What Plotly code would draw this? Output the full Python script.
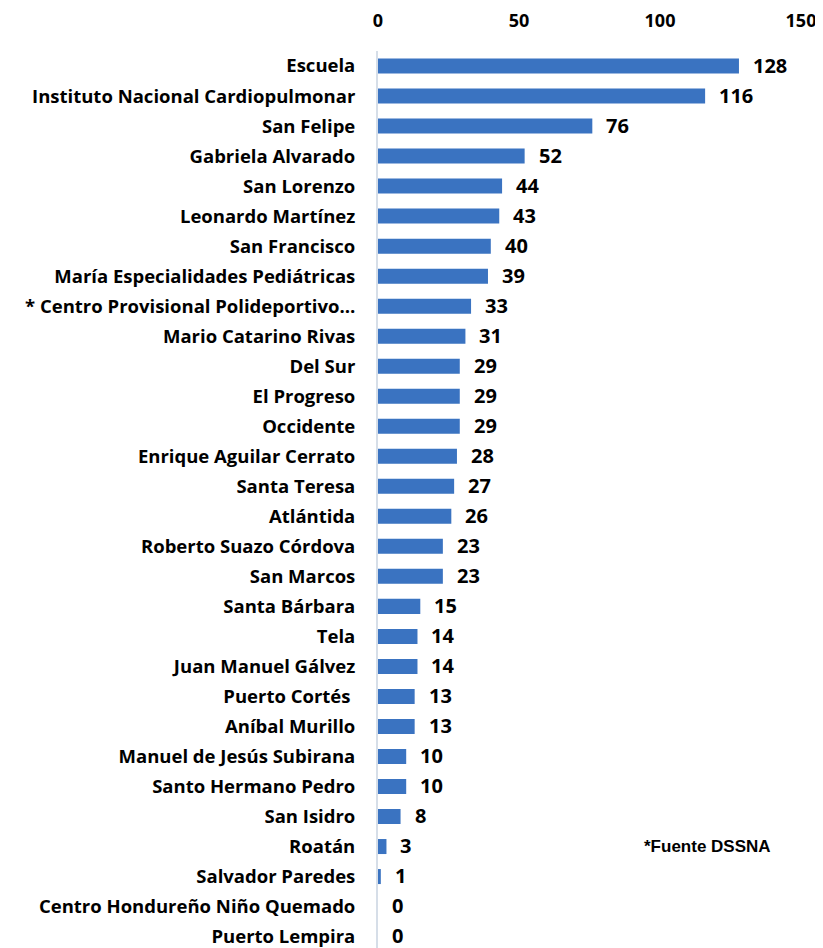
import plotly.graph_objects as go

categories = [
    "Escuela", "Instituto Nacional Cardiopulmonar", "San Felipe", "Gabriela Alvarado",
    "San Lorenzo", "Leonardo Martínez", "San Francisco", "María Especialidades Pediátricas",
    "* Centro Provisional Polideportivo…", "Mario Catarino Rivas", "Del Sur", "El Progreso",
    "Occidente", "Enrique Aguilar Cerrato", "Santa Teresa", "Atlántida", "Roberto Suazo Córdova",
    "San Marcos", "Santa Bárbara", "Tela", "Juan Manuel Gálvez", "Puerto Cortés ",
    "Aníbal Murillo", "Manuel de Jesús Subirana", "Santo Hermano Pedro", "San Isidro",
    "Roatán", "Salvador Paredes", "Centro Hondureño Niño Quemado", "Puerto Lempira",
]
values = [128, 116, 76, 52, 44, 43, 40, 39, 33, 31, 29, 29, 29, 28, 27, 26, 23, 23,
          15, 14, 14, 13, 13, 10, 10, 8, 3, 1, 0, 0]
x_ticks = [0, 50, 100, 150]
source_note = "*Fuente DSSNA"

FONT = "Open Sans"

fig = go.Figure()
fig.add_trace(go.Bar(
    x=values, y=categories, orientation="h",
    marker=dict(color="#3A73C1", line=dict(width=0)),
    width=0.5,
    hoverinfo="x+y",
))

annotations = []
for c, v in zip(categories, values):
    annotations.append(dict(
        x=v, y=c, xref="x", yref="y", text=f"<b>{v}</b>",
        showarrow=False, xanchor="left", xshift=13, yshift=1, borderpad=0,
        font=dict(family=FONT, size=20, color="#000000"),
    ))
annotations.append(dict(
    x=0.934, y=0.1126, xref="paper", yref="paper", text=f"<b>{source_note}</b>",
    showarrow=False, xanchor="right", yanchor="middle",
    font=dict(family="Liberation Sans", size=17, color="#000000"),
))

# page body has an 8px margin, so the figure is 815x940 to fill 823x948
fig.update_layout(
    width=815, height=940,
    margin=dict(l=370, r=22, t=43, b=0),
    paper_bgcolor="white", plot_bgcolor="white",
    showlegend=False,
    annotations=annotations,
    xaxis=dict(
        side="top", range=[0, 150], tickvals=x_ticks,
        ticktext=[f"<b>{t}</b>" for t in x_ticks],
        showgrid=False, zeroline=False, showline=False,
        tickfont=dict(family=FONT, size=18, color="#000000"),
        ticklen=0, automargin=False, ticklabelstandoff=19,
    ),
    yaxis=dict(
        categoryorder="array", categoryarray=categories,
        range=[29.38, -0.5],
        ticktext=[f"<b>{c}</b>" for c in categories], tickvals=categories,
        showgrid=False, zeroline=False,
        showline=True, linecolor="#D6DEE8", linewidth=2,
        tickfont=dict(family=FONT, size=18.5, color="#000000"),
        ticks="", ticklabelstandoff=17, automargin=False,
    ),
)

fig.write_html("out.html")
